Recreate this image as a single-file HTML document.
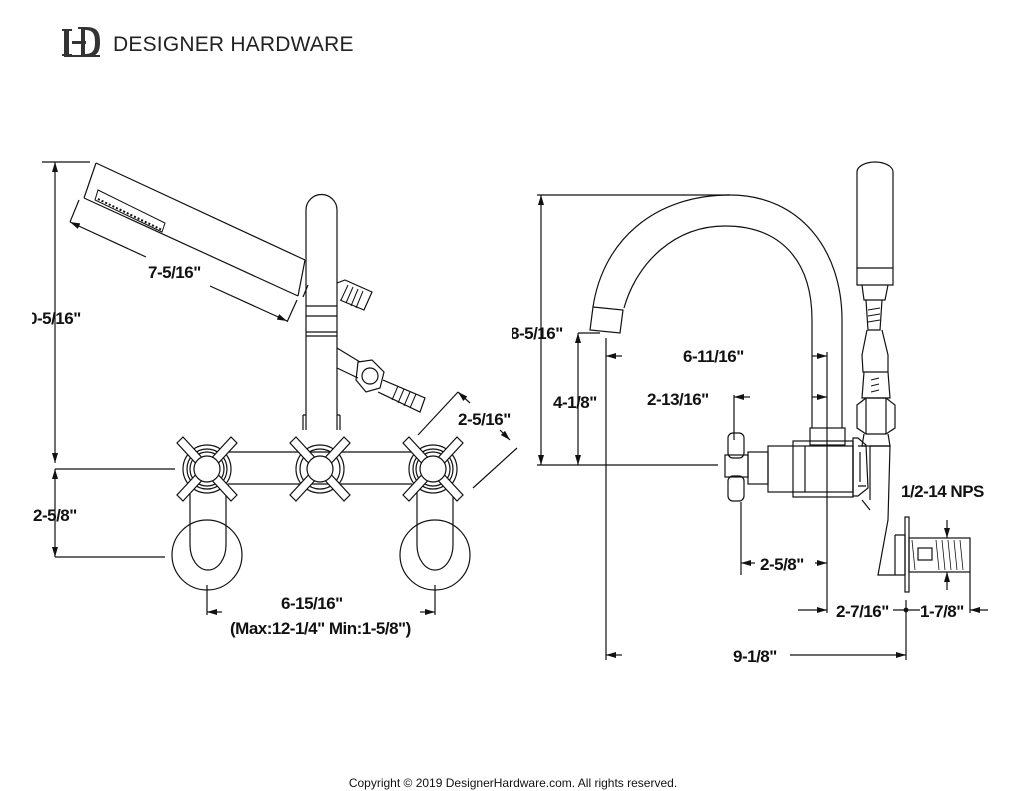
<!DOCTYPE html>
<html><head><meta charset="utf-8"><style>
html,body{margin:0;padding:0;background:#fff;}
svg{display:block}
text{font-family:"Liberation Sans",Arial,sans-serif;}
.d{font-weight:bold;font-size:17px;fill:#111;letter-spacing:-0.5px}
</style></head><body>
<svg width="1024" height="791" viewBox="0 0 1024 791" xmlns="http://www.w3.org/2000/svg">
<defs>
<marker id="a" viewBox="0 0 10 6" refX="10" refY="3" markerWidth="10" markerHeight="6" orient="auto-start-reverse" markerUnits="userSpaceOnUse"><path d="M0,0L10,3L0,6z" fill="#111"/></marker>
</defs>
<!-- logo -->
<g fill="#333">
<rect x="64" y="29" width="5" height="27"/><rect x="62" y="29" width="10" height="2"/><rect x="62" y="54" width="10" height="2"/>
<rect x="72" y="41" width="14" height="3"/>
<path d="M78,27h8c12,0 14,6 14,15s-2,15-14,15h-8v-2h3v-26h-3z M85,30v24c8,0 10-4 10-12s-2-12-10-12z"/>
<rect x="64" y="55" width="36" height="2"/>
</g>
<text x="113" y="51" font-size="21" fill="#222" style="letter-spacing:0.2px">DESIGNER HARDWARE</text>

<g stroke="#111" stroke-width="1.2" fill="none">
<!-- LEFT VIEW dimension lines -->
<line x1="42" y1="162" x2="90" y2="162"/>
<line x1="55" y1="162" x2="55" y2="463" marker-start="url(#a)" marker-end="url(#a)"/>
<line x1="55" y1="469" x2="55" y2="557" marker-start="url(#a)" marker-end="url(#a)"/>
<line x1="55" y1="469" x2="175" y2="469"/>
<line x1="55" y1="557" x2="165" y2="557"/>
<!-- handshower -->
<path d="M96,163 L305,260 M84,198 L298,296 M96,163 L84,198 M305,260 L298,296"/>
<path d="M98,190 L165,223 L162,232 L95,200 Z" stroke-width="1"/>
<path d="M98,199 L162,230" stroke-dasharray="2,2" stroke-width="2"/>
<!-- 7-5/16 dim -->
<line x1="79" y1="200" x2="70" y2="222"/>
<line x1="297" y1="300" x2="287" y2="322"/>
<line x1="70" y1="222" x2="146" y2="257" marker-start="url(#a)"/>
<line x1="210" y1="286" x2="287" y2="321" marker-end="url(#a)"/>
<!-- spout -->
<path d="M306,430 L306,210 A15.5,15.5 0 0 1 337,210 L337,430"/>
<path d="M306,306 L337,306 M306,316 L337,316 M306,332 L337,332 M306,336 L337,336"/>
<path d="M303,415 L303,430 M340,415 L340,430 M303,415 L306,415 M337,415 L340,415"/>
<!-- upper hose -->
<path d="M337,283 L345,280 L372,292 L364,310 L340,300"/>
<path d="M348,285 L341,300 M353,287 L346,303 M358,289 L351,306 M363,291 L356,308" stroke-width="1"/>
<path d="M303,297 L308,285"/>
<!-- lower hose & nut -->
<path d="M337,348 L360,362 M337,368 L358,378"/>
<path d="M358,362 L372,360 L384,372 L380,388 L366,392 L356,380 Z"/>
<circle cx="370" cy="376" r="8"/>
<path d="M383,380 L425,398 L420,412 L378,392"/>
<path d="M398,386 L392,400 M404,389 L398,403 M410,392 L404,406 M416,394 L410,408" stroke-width="1"/>
<!-- horizontal bar -->
<line x1="228" y1="452" x2="412" y2="452"/><line x1="228" y1="484" x2="412" y2="484"/>
<!-- legs -->
<path d="M190,490 L190,545 M226,490 L226,545 M190,545 A18,25 0 0 0 226,545"/>
<circle cx="207" cy="555" r="35"/>
<path d="M417,490 L417,545 M453,490 L453,545 M417,545 A18,25 0 0 0 453,545"/>
<circle cx="435" cy="555" r="35"/>
<!-- 6-15/16 dims -->
<line x1="207" y1="585" x2="207" y2="615"/><line x1="435" y1="585" x2="435" y2="615"/>
<line x1="207" y1="612" x2="222" y2="612" marker-start="url(#a)"/>
<line x1="420" y1="612" x2="435" y2="612" marker-end="url(#a)"/>
<!-- 2-5/16 dims -->
<line x1="418" y1="435" x2="458" y2="392"/><line x1="473" y1="488" x2="517" y2="448"/>
<line x1="458" y1="392" x2="470" y2="403" marker-start="url(#a)"/>
<line x1="500" y1="430" x2="510" y2="440" marker-end="url(#a)"/>
</g>
<!-- cross handles -->
<g stroke="#111" stroke-width="1.2" fill="#fff">
<g transform="translate(207,469)">
<circle r="24" fill="none"/><circle r="20" fill="none"/><circle r="17" fill="none"/>
<path d="M-30,-26 L-24,-32 L0,-6 L24,-32 L30,-26 L6,0 L30,26 L24,32 L0,6 L-24,32 L-30,26 L-6,0 Z"/>
<circle r="13"/>
</g>
<g transform="translate(320,469)">
<circle r="24" fill="none"/><circle r="20" fill="none"/>
<path d="M-30,-26 L-24,-32 L0,-6 L24,-32 L30,-26 L6,0 L30,26 L24,32 L0,6 L-24,32 L-30,26 L-6,0 Z"/>
<circle r="13"/>
</g>
<g transform="translate(433,469)">
<circle r="24" fill="none"/><circle r="20" fill="none"/><circle r="17" fill="none"/>
<path d="M-30,-26 L-24,-32 L0,-6 L24,-32 L30,-26 L6,0 L30,26 L24,32 L0,6 L-24,32 L-30,26 L-6,0 Z"/>
<circle r="13"/>
</g>
</g>

<!-- RIGHT VIEW -->
<g stroke="#111" stroke-width="1.2" fill="none">
<line x1="537" y1="195" x2="730" y2="195"/>
<line x1="541" y1="195" x2="541" y2="465" marker-start="url(#a)" marker-end="url(#a)"/>
<line x1="537" y1="465" x2="718" y2="465"/>
<line x1="578" y1="333" x2="578" y2="465" marker-start="url(#a)" marker-end="url(#a)"/>
<line x1="578" y1="333" x2="600" y2="333"/>
<!-- spout -->
<path d="M593,307 C603,240 655,195 730,195 C800,195 842,250 842,320 L842,428"/>
<path d="M624,308 C637,262 675,226 725,226 C780,226 812,260 812,320 L812,428"/>
<path d="M593,307 L623,310 L620,333 L590,330 Z"/>
<!-- extension lines -->
<line x1="606" y1="338" x2="606" y2="660"/>
<line x1="827" y1="352" x2="827" y2="613"/>
<line x1="606" y1="356" x2="622" y2="356" marker-start="url(#a)"/>
<line x1="812" y1="356" x2="827" y2="356" marker-end="url(#a)"/>
<line x1="734" y1="395" x2="734" y2="440"/>
<line x1="734" y1="397" x2="750" y2="397" marker-start="url(#a)"/>
<line x1="812" y1="397" x2="827" y2="397" marker-end="url(#a)"/>
<line x1="741" y1="502" x2="741" y2="575"/>
<line x1="741" y1="563" x2="755" y2="563" marker-start="url(#a)"/>
<line x1="815" y1="563" x2="827" y2="563" marker-end="url(#a)"/>
<line x1="798" y1="610" x2="827" y2="610" marker-end="url(#a)"/>
<line x1="893" y1="610" x2="920" y2="610"/>
<line x1="906" y1="600" x2="906" y2="660"/>
<circle cx="906" cy="610" r="1.8" fill="#111"/>
<line x1="970" y1="572" x2="970" y2="613"/>
<line x1="988" y1="610" x2="970" y2="610" marker-end="url(#a)"/>
<line x1="606" y1="655" x2="622" y2="655" marker-start="url(#a)"/>
<line x1="790" y1="655" x2="906" y2="655" marker-end="url(#a)"/>
<line x1="947" y1="520" x2="947" y2="538" marker-end="url(#a)"/>
<line x1="947" y1="590" x2="947" y2="572" marker-end="url(#a)"/>
<!-- valve body -->
<rect x="810" y="428" width="35" height="17"/>
<rect x="793" y="441" width="60" height="56"/>
<rect x="768" y="446" width="85" height="46"/>
<line x1="805" y1="446" x2="805" y2="492"/>
<rect x="748" y="452" width="20" height="32"/>
<path d="M853,438 L858,438 L866,445 L868,488 L858,496 L853,496 Z"/>
<path d="M858,446 L866,446 M858,486 L866,486 M860,452 L860,482"/>
<!-- cross handle side -->
<rect x="728" y="433" width="16" height="25" rx="5"/>
<rect x="728" y="476" width="16" height="25" rx="5"/>
<rect x="725" y="455" width="23" height="22"/>
<!-- right handshower -->
<path d="M857,172 A18,10 0 0 1 893,172 L893,268 L857,268 Z"/>
<path d="M857,268 L857,285 L893,285 L893,268 M862,285 L864,300 L885,300 L888,285"/>
<path d="M866,300 L868,330 L880,330 L882,300"/>
<path d="M868,310 L880,308 M868,316 L880,314 M868,322 L880,320" stroke-width="1"/>
<path d="M867,330 L862,355 L863,372 L888,372 L888,355 L882,330"/>
<path d="M864,372 L862,398 L890,398 L888,372"/>
<path d="M871,380 L879,378 M871,386 L879,384 M871,392 L879,390" stroke-width="1"/>
<path d="M857,405 L866,398 L886,398 L895,405 L895,428 L886,434 L866,434 L857,428 Z"/>
<path d="M866,398 L866,434 M886,398 L886,434"/>
<path d="M864,434 L862,446 L890,446 L888,434"/>
<path d="M870,446 L890,446 L888,520 L878,575 L890,575 L905,575"/>
<path d="M862,500 L870,510 M870,446 L870,500"/>
<path d="M895,535 L905,535 L905,575 M895,535 L895,575"/>
<rect x="905" y="517" width="4" height="75"/>
<rect x="909" y="538" width="61" height="34"/>
<rect x="918" y="548" width="14" height="12"/>
<path d="M912,540 L915,570 M936,540 L939,570 M942,540 L945,570 M948,540 L951,570 M954,540 L957,570 M960,540 L963,570" stroke-width="0.8"/>
</g>

<!-- labels -->
<text class="d" x="28" y="324" text-anchor="start">0-5/16"</text>
<rect x="24" y="305" width="8" height="24" fill="#fff"/>
<text class="d" x="33" y="521">2-5/8"</text>
<text class="d" x="148" y="278">7-5/16"</text>
<text class="d" x="458" y="425">2-5/16"</text>
<text class="d" x="281" y="609">6-15/16"</text>
<text class="d" x="230" y="634">(Max:12-1/4" Min:1-5/8")</text>
<text class="d" x="510" y="339">8-5/16"</text>
<rect x="504" y="320" width="8" height="24" fill="#fff"/>
<text class="d" x="553" y="408">4-1/8"</text>
<text class="d" x="683" y="362">6-11/16"</text>
<text class="d" x="647" y="405">2-13/16"</text>
<text class="d" x="760" y="570">2-5/8"</text>
<text class="d" x="836" y="617">2-7/16"</text>
<text class="d" x="920" y="617">1-7/8"</text>
<text class="d" x="733" y="662">9-1/8"</text>
<text class="d" x="901" y="497">1/2-14 NPS</text>
<rect x="988" y="478" width="36" height="26" fill="#fff"/>
<text x="513" y="787" font-size="12" fill="#111" text-anchor="middle">Copyright © 2019 DesignerHardware.com. All rights reserved.</text>
</svg>
</body></html>
